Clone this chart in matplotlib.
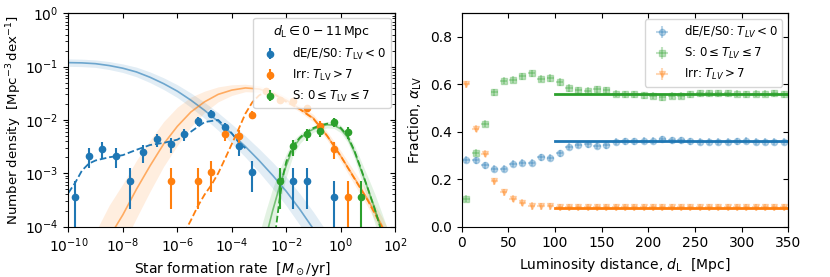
import numpy as np
from matplotlib import pyplot as plt

# --- left panel: SFR function, d_L 0-11 Mpc ---
blue_logx = [-9.75, -9.25, -8.75, -8.25, -7.75, -7.25, -6.75, -6.25, -5.75, -5.25,
             -4.75, -4.25, -3.75, -3.25, -1.75, -1.25, -0.25]
blue_y = [3.6e-4, 2.1e-3, 2.9e-3, 2.1e-3, 7.2e-4, 2.5e-3, 4.3e-3, 3.5e-3, 5.4e-3, 9.6e-3,
          1.29e-2, 7.3e-3, 3.2e-3, 1.07e-3, 7.2e-4, 7.2e-4, 3.6e-4]
blue_err = [3.6e-4, 8.7e-4, 1.02e-3, 8.7e-4, 5.1e-4, 9.5e-4, 1.24e-3, 1.12e-3, 1.39e-3, 1.86e-3,
            2.15e-3, 1.62e-3, 1.07e-3, 6.2e-4, 5.1e-4, 5.1e-4, 3.6e-4]

orange_logx = [-6.25, -5.25, -4.75, -4.25, -3.75, -3.25, -2.75, -2.25, -1.75, -1.25,
               -0.75, -0.25, 0.25]
orange_y = [7.2e-4, 7.2e-4, 1.07e-3, 5.4e-3, 5.0e-3, 1.24e-2, 3.5e-2, 2.35e-2, 2.3e-2, 1.7e-2,
            7.8e-3, 2.9e-3, 3.6e-4]
orange_err = [5.1e-4, 5.1e-4, 6.2e-4, 1.39e-3, 1.34e-3, 2.11e-3, 3.55e-3, 2.91e-3, 2.88e-3, 2.47e-3,
              1.68e-3, 1.02e-3, 3.6e-4]

green_logx = [-2.25, -1.75, -1.25, -0.75, -0.25, 0.25, 0.75]
green_y = [7.2e-4, 3.2e-3, 5.4e-3, 6.2e-3, 9.1e-3, 5.9e-3, 3.6e-4]
green_err = [5.1e-4, 1.07e-3, 1.39e-3, 1.49e-3, 1.81e-3, 1.46e-3, 3.6e-4]

# fitted curves (log10 values) and band half-widths in dex
blue_fit_logx = [-10, -9.5, -9, -8.5, -8, -7.5, -7, -6.5, -6, -5.5,
                 -5, -4.5, -4, -3.5, -3, -2.5, -2, -1.5, -1, -0.5]
blue_fit_logy = [-0.925, -0.93, -0.945, -0.98, -1.03, -1.1, -1.2, -1.32, -1.46, -1.63,
                 -1.82, -2.03, -2.26, -2.5, -2.76, -3.04, -3.34, -3.68, -4.05, -4.45]
blue_band = [0.07, 0.07, 0.07, 0.075, 0.08, 0.09, 0.1, 0.11, 0.12, 0.135,
             0.15, 0.165, 0.18, 0.2, 0.22, 0.245, 0.27, 0.295, 0.32, 0.34]

orange_fit_logx = [-9, -8.5, -8, -7.5, -7, -6.5, -6, -5.5, -5, -4.5, -4, -3.5,
                   -3, -2.5, -2, -1.5, -1, -0.5, 0, 0.5, 1, 1.5, 2]
orange_fit_logy = [-4.7, -4.2, -3.78, -3.3, -2.86, -2.45, -2.12, -1.85, -1.66, -1.52, -1.44, -1.40,
                   -1.42, -1.50, -1.63, -1.79, -1.97, -2.3, -2.68, -3.09, -3.5, -3.97, -4.5]
orange_band = [0.6, 0.6, 0.58, 0.54, 0.48, 0.42, 0.36, 0.28, 0.2, 0.14, 0.1, 0.07,
               0.06, 0.06, 0.06, 0.06, 0.07, 0.08, 0.1, 0.12, 0.14, 0.16, 0.18]

green_fit_logx = [-3, -2.75, -2.5, -2.25, -2, -1.75, -1.5, -1.25, -1, -0.75,
                  -0.5, -0.25, 0, 0.25, 0.5, 0.75, 1, 1.25, 1.5, 1.75]
green_fit_logy = [-4.7, -4.2, -3.7, -3.25, -2.85, -2.52, -2.35, -2.24, -2.17, -2.12,
                  -2.09, -2.1, -2.17, -2.33, -2.6, -2.95, -3.3, -3.67, -4.08, -4.5]
green_band = [0.55, 0.5, 0.42, 0.32, 0.22, 0.14, 0.09, 0.07, 0.06, 0.06,
              0.06, 0.06, 0.07, 0.09, 0.12, 0.17, 0.22, 0.28, 0.34, 0.4]

# smoothed (dashed) curves
blue_kde_logx = [-10, -9.75, -9.5, -9.25, -9, -8.5, -8, -7.5, -7, -6.5, -6, -5.5,
                 -5, -4.5, -4, -3.75, -3.5]
blue_kde_logy = [-3.37, -3.18, -2.95, -2.82, -2.76, -2.7, -2.66, -2.56, -2.47, -2.43, -2.37, -2.22,
                 -2.04, -2.0, -2.25, -2.42, -2.53]
orange_kde_logx = [-5.75, -5.5, -5.25, -5, -4.75, -4.5, -4.25, -4, -3.75, -3.5, -3.25, -3,
                   -2.75, -2.5, -2.25, -2, -1.5, -1, -0.5, 0, 0.5, 1, 1.5, 2]
orange_kde_logy = [-4.12, -3.88, -3.62, -3.4, -3.22, -3.0, -2.73, -2.45, -2.17, -1.88, -1.67, -1.54,
                   -1.47, -1.5, -1.58, -1.66, -1.8, -1.98, -2.3, -2.68, -3.1, -3.52, -4.0, -4.5]
green_kde_logx = [-2.4, -2.25, -2.1, -2, -1.75, -1.5, -1.25, -1, -0.75, -0.5,
                  -0.25, 0, 0.25, 0.5, 0.75, 1, 1.25, 1.5, 1.75]
green_kde_logy = [-4.1, -3.5, -3.0, -2.78, -2.48, -2.33, -2.22, -2.15, -2.1, -2.07,
                  -2.08, -2.15, -2.3, -2.58, -2.93, -3.3, -3.68, -4.1, -4.5]

# --- right panel: morphological fractions vs distance ---
dist = np.arange(5, 350, 10)
frac_e = [0.282, 0.279, 0.259, 0.244, 0.244, 0.265, 0.270, 0.269, 0.292, 0.290,
          0.310, 0.337, 0.345, 0.348, 0.342, 0.344, 0.359, 0.360, 0.360, 0.362,
          0.363, 0.369, 0.365, 0.365, 0.360, 0.358, 0.358, 0.358, 0.358, 0.360,
          0.362, 0.359, 0.359, 0.359, 0.359]
frac_s = [0.117, 0.311, 0.434, 0.566, 0.615, 0.620, 0.634, 0.646, 0.624, 0.627,
          0.610, 0.585, 0.576, 0.573, 0.579, 0.575, 0.561, 0.558, 0.558, 0.555,
          0.553, 0.545, 0.553, 0.552, 0.558, 0.563, 0.563, 0.562, 0.562, 0.561,
          0.558, 0.561, 0.561, 0.562, 0.558]
frac_irr = [0.601, 0.413, 0.308, 0.192, 0.144, 0.118, 0.100, 0.087, 0.086, 0.085,
            0.082, 0.082, 0.082, 0.082, 0.082, 0.082, 0.082, 0.082, 0.082, 0.082,
            0.082, 0.082, 0.082, 0.082, 0.082, 0.082, 0.082, 0.082, 0.082, 0.082,
            0.082, 0.082, 0.082, 0.082, 0.082]
frac_err = 0.015
level_e, level_s, level_irr = 0.36, 0.56, 0.08

c_b, c_o, c_g = '#1f77b4', '#ff7f0e', '#2ca02c'

fig = plt.figure(figsize=(8.3, 2.77), dpi=100)
ax1 = fig.add_axes([0.0823, 0.182, 0.394, 0.770])
ax2 = fig.add_axes([0.5563, 0.182, 0.3935, 0.770])

ax1.set_xscale('log')
ax1.set_yscale('log')


def band(ax, lx, ly, w, c):
    lx, ly, w = np.array(lx), np.array(ly), np.array(w)
    ax.fill_between(10**lx, 10**(ly - w), 10**(ly + w), color=c, alpha=0.13, lw=0)
    ax.plot(10**lx, 10**ly, color=c, alpha=0.6, lw=1.2)


band(ax1, blue_fit_logx, blue_fit_logy, blue_band, c_b)
band(ax1, orange_fit_logx, orange_fit_logy, orange_band, c_o)
band(ax1, green_fit_logx, green_fit_logy, green_band, c_g)

ax1.plot(10**np.array(blue_kde_logx), 10**np.array(blue_kde_logy), '--', color=c_b, lw=1.3)
ax1.plot(10**np.array(orange_kde_logx), 10**np.array(orange_kde_logy), '--', color=c_o, lw=1.3)
ax1.plot(10**np.array(green_kde_logx), 10**np.array(green_kde_logy), '--', color=c_g, lw=1.3)

ax1.errorbar(10**np.array(blue_logx), blue_y, yerr=blue_err, fmt='o', color=c_b, ms=4.5,
             elinewidth=1.5, label=r'dE/E/S0: $T_{\rm LV}<0$')
ax1.errorbar(10**np.array(orange_logx), orange_y, yerr=orange_err, fmt='o', color=c_o, ms=4.5,
             elinewidth=1.5, label=r'Irr: $T_{\rm LV}>7$')
ax1.errorbar(10**np.array(green_logx), green_y, yerr=green_err, fmt='o', color=c_g, ms=4.5,
             elinewidth=1.5, label=r'S: $0\leq T_{\rm LV}\leq 7$')

ax1.set_xlim(1e-10, 1e2)
ax1.set_ylim(1e-4, 1e0)
ax1.xaxis.set_minor_locator(plt.NullLocator())
ax1.set_xlabel(r'Star formation rate  [$M_\odot$/yr]', fontsize=10)
ax1.set_ylabel(r'Number density  [Mpc$^{-3}\,$dex$^{-1}$]', fontsize=9.6, labelpad=1)
ax1.legend(loc='upper right', fontsize=8.5, title=r'$d_{\rm L}\in 0-11\,$Mpc',
           title_fontsize=9, handletextpad=0.9, borderaxespad=0.4)

# right panel
ax2.errorbar(dist, frac_e, xerr=4, yerr=frac_err, fmt='o', color=c_b, ms=4.5, alpha=0.3,
             label=r'dE/E/S0: $T_{LV}<0$')
ax2.errorbar(dist, frac_s, xerr=4, yerr=frac_err, fmt='s', color=c_g, ms=4.5, alpha=0.3,
             label=r'S: $0\leq T_{LV}\leq 7$')
ax2.errorbar(dist, frac_irr, xerr=4, yerr=frac_err, fmt='v', color=c_o, ms=4.5, alpha=0.3,
             label=r'Irr: $T_{LV}>7$')
ax2.plot([100, 350], [level_s, level_s], color=c_g, lw=2)
ax2.plot([100, 350], [level_e, level_e], color=c_b, lw=2)
ax2.plot([100, 350], [level_irr, level_irr], color=c_o, lw=2)

ax2.set_xlim(0, 350)
ax2.set_ylim(0, 0.9)
ax2.set_yticks([0.0, 0.2, 0.4, 0.6, 0.8])
ax2.set_xlabel(r'Luminosity distance, $d_{\rm L}$  [Mpc]', fontsize=10)
ax2.set_ylabel(r'Fraction, $\alpha_{\rm LV}$', fontsize=10)
ax2.legend(loc='upper right', fontsize=8.5, handletextpad=0.9)

# ticks: outward on bottom/left, inward on top/right
for ax in (ax1, ax2):
    ax.tick_params(which='both', direction='out', labelsize=10)
    sec_x = ax.secondary_xaxis('top')
    sec_x.set_xticks(ax.get_xticks())
    sec_x.xaxis.set_minor_locator(plt.NullLocator())
    sec_x.tick_params(direction='in', labeltop=False)
    sec_y = ax.secondary_yaxis('right')
    sec_y.tick_params(which='both', direction='in', labelright=False)

ax1.set_xlim(1e-10, 1e2)
ax2.set_xlim(0, 350)
fig.savefig('out.png', dpi=100)
